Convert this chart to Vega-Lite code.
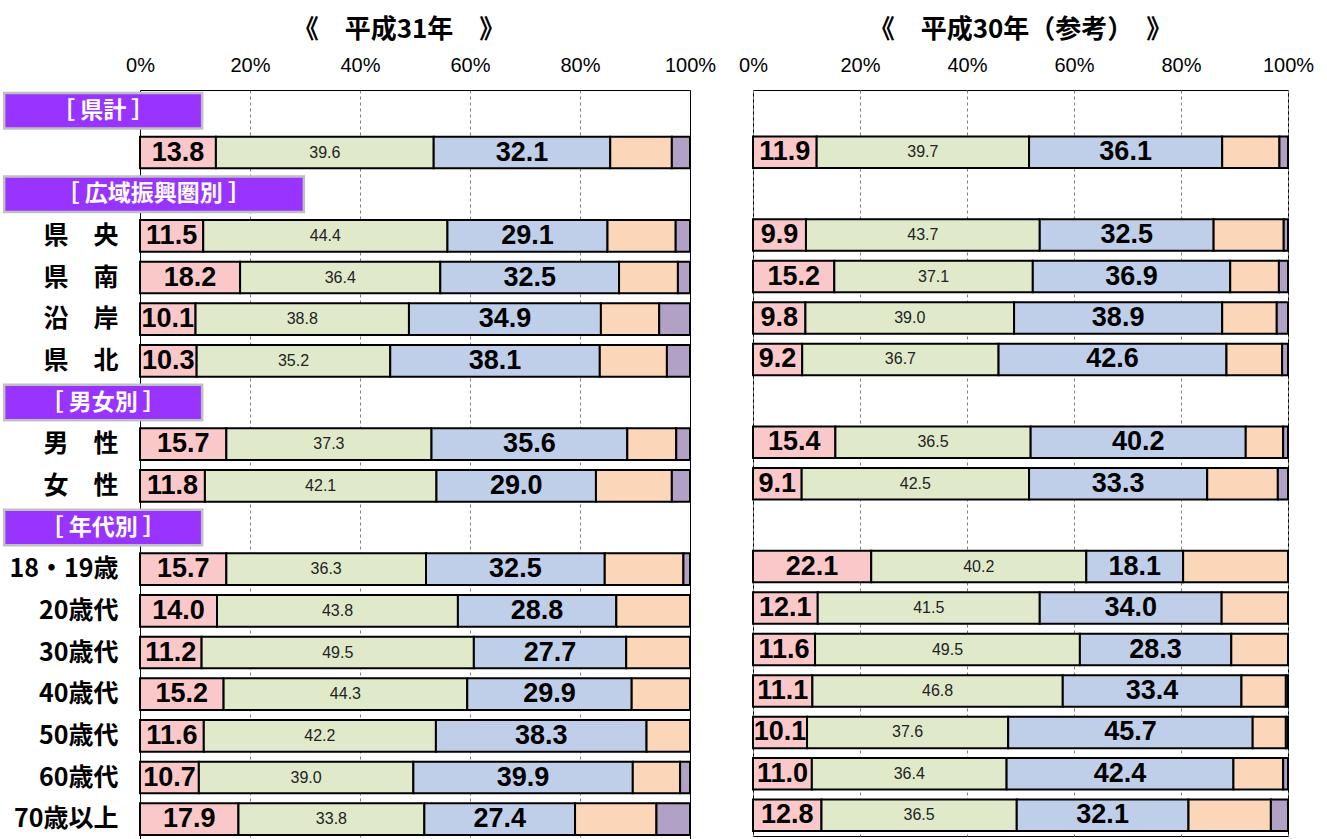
{
  "$schema": "https://vega.github.io/schema/vega-lite/v6.json",
  "padding": {"left": 2, "top": 16, "right": 5, "bottom": 0},
  "background": "white",
  "spacing": 22,
  "config": {
    "view": {"stroke": null},
    "title": {"font": "Noto Sans CJK JP", "fontSize": 26, "fontWeight": "bold", "color": "#000", "anchor": "middle", "offset": 12}
  },
  "datasets": {
    "bars": [
      {"year":"H31","row":"県計","cat":1,"value":13.8},{"year":"H31","row":"県計","cat":2,"value":39.6},{"year":"H31","row":"県計","cat":3,"value":32.1},{"year":"H31","row":"県計","cat":4,"value":11.2},{"year":"H31","row":"県計","cat":5,"value":3.3},
      {"year":"H31","row":"県　央","cat":1,"value":11.5},{"year":"H31","row":"県　央","cat":2,"value":44.4},{"year":"H31","row":"県　央","cat":3,"value":29.1},{"year":"H31","row":"県　央","cat":4,"value":12.4},{"year":"H31","row":"県　央","cat":5,"value":2.6},
      {"year":"H31","row":"県　南","cat":1,"value":18.2},{"year":"H31","row":"県　南","cat":2,"value":36.4},{"year":"H31","row":"県　南","cat":3,"value":32.5},{"year":"H31","row":"県　南","cat":4,"value":10.7},{"year":"H31","row":"県　南","cat":5,"value":2.2},
      {"year":"H31","row":"沿　岸","cat":1,"value":10.1},{"year":"H31","row":"沿　岸","cat":2,"value":38.8},{"year":"H31","row":"沿　岸","cat":3,"value":34.9},{"year":"H31","row":"沿　岸","cat":4,"value":10.6},{"year":"H31","row":"沿　岸","cat":5,"value":5.6},
      {"year":"H31","row":"県　北","cat":1,"value":10.3},{"year":"H31","row":"県　北","cat":2,"value":35.2},{"year":"H31","row":"県　北","cat":3,"value":38.1},{"year":"H31","row":"県　北","cat":4,"value":12.2},{"year":"H31","row":"県　北","cat":5,"value":4.2},
      {"year":"H31","row":"男　性","cat":1,"value":15.7},{"year":"H31","row":"男　性","cat":2,"value":37.3},{"year":"H31","row":"男　性","cat":3,"value":35.6},{"year":"H31","row":"男　性","cat":4,"value":8.9},{"year":"H31","row":"男　性","cat":5,"value":2.5},
      {"year":"H31","row":"女　性","cat":1,"value":11.8},{"year":"H31","row":"女　性","cat":2,"value":42.1},{"year":"H31","row":"女　性","cat":3,"value":29.0},{"year":"H31","row":"女　性","cat":4,"value":13.8},{"year":"H31","row":"女　性","cat":5,"value":3.3},
      {"year":"H31","row":"18・19歳","cat":1,"value":15.7},{"year":"H31","row":"18・19歳","cat":2,"value":36.3},{"year":"H31","row":"18・19歳","cat":3,"value":32.5},{"year":"H31","row":"18・19歳","cat":4,"value":14.3},{"year":"H31","row":"18・19歳","cat":5,"value":1.2},
      {"year":"H31","row":"20歳代","cat":1,"value":14.0},{"year":"H31","row":"20歳代","cat":2,"value":43.8},{"year":"H31","row":"20歳代","cat":3,"value":28.8},{"year":"H31","row":"20歳代","cat":4,"value":13.4},
      {"year":"H31","row":"30歳代","cat":1,"value":11.2},{"year":"H31","row":"30歳代","cat":2,"value":49.5},{"year":"H31","row":"30歳代","cat":3,"value":27.7},{"year":"H31","row":"30歳代","cat":4,"value":11.6},
      {"year":"H31","row":"40歳代","cat":1,"value":15.2},{"year":"H31","row":"40歳代","cat":2,"value":44.3},{"year":"H31","row":"40歳代","cat":3,"value":29.9},{"year":"H31","row":"40歳代","cat":4,"value":10.6},
      {"year":"H31","row":"50歳代","cat":1,"value":11.6},{"year":"H31","row":"50歳代","cat":2,"value":42.2},{"year":"H31","row":"50歳代","cat":3,"value":38.3},{"year":"H31","row":"50歳代","cat":4,"value":7.9},
      {"year":"H31","row":"60歳代","cat":1,"value":10.7},{"year":"H31","row":"60歳代","cat":2,"value":39.0},{"year":"H31","row":"60歳代","cat":3,"value":39.9},{"year":"H31","row":"60歳代","cat":4,"value":8.6},{"year":"H31","row":"60歳代","cat":5,"value":1.8},
      {"year":"H31","row":"70歳以上","cat":1,"value":17.9},{"year":"H31","row":"70歳以上","cat":2,"value":33.8},{"year":"H31","row":"70歳以上","cat":3,"value":27.4},{"year":"H31","row":"70歳以上","cat":4,"value":14.8},{"year":"H31","row":"70歳以上","cat":5,"value":6.1},
      {"year":"H30","row":"県計","cat":1,"value":11.9},{"year":"H30","row":"県計","cat":2,"value":39.7},{"year":"H30","row":"県計","cat":3,"value":36.1},{"year":"H30","row":"県計","cat":4,"value":10.7},{"year":"H30","row":"県計","cat":5,"value":1.6},
      {"year":"H30","row":"県　央","cat":1,"value":9.9},{"year":"H30","row":"県　央","cat":2,"value":43.7},{"year":"H30","row":"県　央","cat":3,"value":32.5},{"year":"H30","row":"県　央","cat":4,"value":13.1},{"year":"H30","row":"県　央","cat":5,"value":0.8},
      {"year":"H30","row":"県　南","cat":1,"value":15.2},{"year":"H30","row":"県　南","cat":2,"value":37.1},{"year":"H30","row":"県　南","cat":3,"value":36.9},{"year":"H30","row":"県　南","cat":4,"value":9.1},{"year":"H30","row":"県　南","cat":5,"value":1.7},
      {"year":"H30","row":"沿　岸","cat":1,"value":9.8},{"year":"H30","row":"沿　岸","cat":2,"value":39.0},{"year":"H30","row":"沿　岸","cat":3,"value":38.9},{"year":"H30","row":"沿　岸","cat":4,"value":10.2},{"year":"H30","row":"沿　岸","cat":5,"value":2.1},
      {"year":"H30","row":"県　北","cat":1,"value":9.2},{"year":"H30","row":"県　北","cat":2,"value":36.7},{"year":"H30","row":"県　北","cat":3,"value":42.6},{"year":"H30","row":"県　北","cat":4,"value":10.4},{"year":"H30","row":"県　北","cat":5,"value":1.1},
      {"year":"H30","row":"男　性","cat":1,"value":15.4},{"year":"H30","row":"男　性","cat":2,"value":36.5},{"year":"H30","row":"男　性","cat":3,"value":40.2},{"year":"H30","row":"男　性","cat":4,"value":7.0},{"year":"H30","row":"男　性","cat":5,"value":0.9},
      {"year":"H30","row":"女　性","cat":1,"value":9.1},{"year":"H30","row":"女　性","cat":2,"value":42.5},{"year":"H30","row":"女　性","cat":3,"value":33.3},{"year":"H30","row":"女　性","cat":4,"value":13.2},{"year":"H30","row":"女　性","cat":5,"value":1.9},
      {"year":"H30","row":"18・19歳","cat":1,"value":22.1},{"year":"H30","row":"18・19歳","cat":2,"value":40.2},{"year":"H30","row":"18・19歳","cat":3,"value":18.1},{"year":"H30","row":"18・19歳","cat":4,"value":19.6},
      {"year":"H30","row":"20歳代","cat":1,"value":12.1},{"year":"H30","row":"20歳代","cat":2,"value":41.5},{"year":"H30","row":"20歳代","cat":3,"value":34.0},{"year":"H30","row":"20歳代","cat":4,"value":12.4},
      {"year":"H30","row":"30歳代","cat":1,"value":11.6},{"year":"H30","row":"30歳代","cat":2,"value":49.5},{"year":"H30","row":"30歳代","cat":3,"value":28.3},{"year":"H30","row":"30歳代","cat":4,"value":10.6},
      {"year":"H30","row":"40歳代","cat":1,"value":11.1},{"year":"H30","row":"40歳代","cat":2,"value":46.8},{"year":"H30","row":"40歳代","cat":3,"value":33.4},{"year":"H30","row":"40歳代","cat":4,"value":8.3},{"year":"H30","row":"40歳代","cat":5,"value":0.4},
      {"year":"H30","row":"50歳代","cat":1,"value":10.1},{"year":"H30","row":"50歳代","cat":2,"value":37.6},{"year":"H30","row":"50歳代","cat":3,"value":45.7},{"year":"H30","row":"50歳代","cat":4,"value":6.2},{"year":"H30","row":"50歳代","cat":5,"value":0.4},
      {"year":"H30","row":"60歳代","cat":1,"value":11.0},{"year":"H30","row":"60歳代","cat":2,"value":36.4},{"year":"H30","row":"60歳代","cat":3,"value":42.4},{"year":"H30","row":"60歳代","cat":4,"value":9.3},{"year":"H30","row":"60歳代","cat":5,"value":0.9},
      {"year":"H30","row":"70歳以上","cat":1,"value":12.8},{"year":"H30","row":"70歳以上","cat":2,"value":36.5},{"year":"H30","row":"70歳以上","cat":3,"value":32.1},{"year":"H30","row":"70歳以上","cat":4,"value":15.4},{"year":"H30","row":"70歳以上","cat":5,"value":3.2}
    ],
    "headers": [{"row": "［ 県計 ］"}, {"row": "［ 広域振興圏別 ］"}, {"row": "［ 男女別 ］"}, {"row": "［ 年代別 ］"}]
  },
  "hconcat": [
    {
      "title": {"text": "《　平成31年　》", "dx": -16},
      "width": 550,
      "height": 750,
      "encoding": {
        "y": {
          "field": "row", "type": "nominal",
          "scale": {"domain": ["［ 県計 ］","県計","［ 広域振興圏別 ］","県　央","県　南","沿　岸","県　北","［ 男女別 ］","男　性","女　性","［ 年代別 ］","18・19歳","20歳代","30歳代","40歳代","50歳代","60歳代","70歳以上"], "paddingInner": 0.24, "paddingOuter": 0.12},
          "axis": {"title": null, "ticks": false, "domain": false, "labelFont": "Noto Sans CJK JP", "labelFontSize": 25, "labelFontWeight": "bold", "labelColor": "#000", "labelPadding": 22, "labelExpr": "indexof(datum.value, '［') == 0 || datum.value == '県計' ? '' : datum.value"}
        }
      },
      "layer": [
        {
          "data": {"name": "bars"},
          "transform": [{"filter": "datum.year == 'H31'"}],
          "layer": [
            {
              "mark": {"type": "bar", "stroke": "#000", "strokeWidth": 2},
              "encoding": {
                "x": {"field": "value", "type": "quantitative", "stack": "zero", "scale": {"domain": [0, 100], "nice": false},
                  "axis": {"orient": "top", "values": [0,20,40,60,80,100], "labelExpr": "datum.value + '%'", "title": null, "ticks": false, "domain": true, "domainColor": "#000", "domainWidth": 1, "grid": true,
                    "gridColor": {"condition": {"test": "datum.value == 0 || datum.value == 100", "value": "#000"}, "value": "#808080"},
                    "gridDash": {"condition": {"test": "datum.value == 0 || datum.value == 100", "value": []}, "value": [3, 3]},
                    "labelFont": "Liberation Sans", "labelFontSize": 20, "labelColor": "#000", "labelPadding": 15, "labelFlush": false, "labelOverlap": false}},
                "color": {"field": "cat", "type": "nominal", "scale": {"domain": [1,2,3,4,5], "range": ["#FAC8C8", "#E0EACB", "#BFCFEA", "#FBD6B8", "#B2A1C7"]}, "legend": null},
                "order": {"field": "cat", "type": "quantitative"}
              }
            },
            {
              "mark": {"type": "text", "font": "Liberation Sans", "fontSize": 27, "fontWeight": "bold", "color": "#000", "baseline": "middle"},
              "encoding": {
                "x": {"field": "value", "type": "quantitative", "stack": "zero", "bandPosition": 0.5},
                "detail": {"field": "cat"},
                "order": {"field": "cat", "type": "quantitative"},
                "text": {"condition": {"test": "datum.cat == 1 || datum.cat == 3", "field": "value", "type": "quantitative", "format": ".1f"}, "value": ""}
              }
            },
            {
              "mark": {"type": "text", "font": "Liberation Sans", "fontSize": 16, "color": "#222", "baseline": "middle"},
              "encoding": {
                "x": {"field": "value", "type": "quantitative", "stack": "zero", "bandPosition": 0.5},
                "detail": {"field": "cat"},
                "order": {"field": "cat", "type": "quantitative"},
                "text": {"condition": {"test": "datum.cat == 2", "field": "value", "type": "quantitative", "format": ".1f"}, "value": ""}
              }
            }
          ]
        },
        {
          "data": {"name": "headers"},
          "layer": [
            {
              "transform": [{"filter": "datum.row != '［ 広域振興圏別 ］'"}],
              "layer": [
                {"mark": {"type": "bar", "fill": "#9933FF", "stroke": "#C0C0C0", "strokeWidth": 2.5, "height": {"band": 1.12}},
                 "encoding": {"x": {"datum": -24.7, "type": "quantitative", "scale": {"domain": [0, 100], "nice": false}}, "x2": {"datum": 11.3}}},
                {"mark": {"type": "text", "font": "Noto Sans CJK JP", "fontSize": 23, "fontWeight": "bold", "color": "#FFFFFF", "baseline": "middle"},
                 "encoding": {"x": {"datum": -6.7, "type": "quantitative", "scale": {"domain": [0, 100], "nice": false}}, "text": {"field": "row"}}}
              ]
            },
            {
              "transform": [{"filter": "datum.row == '［ 広域振興圏別 ］'"}],
              "layer": [
                {"mark": {"type": "bar", "fill": "#9933FF", "stroke": "#C0C0C0", "strokeWidth": 2.5, "height": {"band": 1.12}},
                 "encoding": {"x": {"datum": -24.7, "type": "quantitative", "scale": {"domain": [0, 100], "nice": false}}, "x2": {"datum": 29.8}}},
                {"mark": {"type": "text", "font": "Noto Sans CJK JP", "fontSize": 23, "fontWeight": "bold", "color": "#FFFFFF", "baseline": "middle"},
                 "encoding": {"x": {"datum": 2.5, "type": "quantitative", "scale": {"domain": [0, 100], "nice": false}}, "text": {"field": "row"}}}
              ]
            }
          ]
        }
      ]
    },
    {
      "title": {"text": "《　平成30年（参考）　》"},
      "width": 535,
      "height": 746,
      "view": {"stroke": "#000", "strokeWidth": 1},
      "data": {"name": "bars"},
      "transform": [{"filter": "datum.year == 'H30'"}],
      "encoding": {
        "y": {
          "field": "row", "type": "nominal",
          "scale": {"domain": ["［ 県計 ］","県計","［ 広域振興圏別 ］","県　央","県　南","沿　岸","県　北","［ 男女別 ］","男　性","女　性","［ 年代別 ］","18・19歳","20歳代","30歳代","40歳代","50歳代","60歳代","70歳以上"], "paddingInner": 0.24, "paddingOuter": 0.12},
          "axis": null
        }
      },
      "layer": [
        {
          "mark": {"type": "bar", "stroke": "#000", "strokeWidth": 2},
          "encoding": {
            "x": {"field": "value", "type": "quantitative", "stack": "zero", "scale": {"domain": [0, 100], "nice": false},
              "axis": {"orient": "top", "values": [0,20,40,60,80,100], "labelExpr": "datum.value + '%'", "title": null, "ticks": false, "domain": false, "grid": true,
                "gridColor": "#808080",
                "gridDash": [3, 3],
                "labelFont": "Liberation Sans", "labelFontSize": 20, "labelColor": "#000", "labelPadding": 15, "labelFlush": false, "labelOverlap": false}},
            "color": {"field": "cat", "type": "nominal", "scale": {"domain": [1,2,3,4,5], "range": ["#FAC8C8", "#E0EACB", "#BFCFEA", "#FBD6B8", "#B2A1C7"]}, "legend": null},
            "order": {"field": "cat", "type": "quantitative"}
          }
        },
        {
          "mark": {"type": "text", "font": "Liberation Sans", "fontSize": 27, "fontWeight": "bold", "color": "#000", "baseline": "middle"},
          "encoding": {
            "x": {"field": "value", "type": "quantitative", "stack": "zero", "bandPosition": 0.5},
            "detail": {"field": "cat"},
            "order": {"field": "cat", "type": "quantitative"},
            "text": {"condition": {"test": "datum.cat == 1 || datum.cat == 3", "field": "value", "type": "quantitative", "format": ".1f"}, "value": ""}
          }
        },
        {
          "mark": {"type": "text", "font": "Liberation Sans", "fontSize": 16, "color": "#222", "baseline": "middle"},
          "encoding": {
            "x": {"field": "value", "type": "quantitative", "stack": "zero", "bandPosition": 0.5},
            "detail": {"field": "cat"},
            "order": {"field": "cat", "type": "quantitative"},
            "text": {"condition": {"test": "datum.cat == 2", "field": "value", "type": "quantitative", "format": ".1f"}, "value": ""}
          }
        }
      ]
    }
  ]
}
